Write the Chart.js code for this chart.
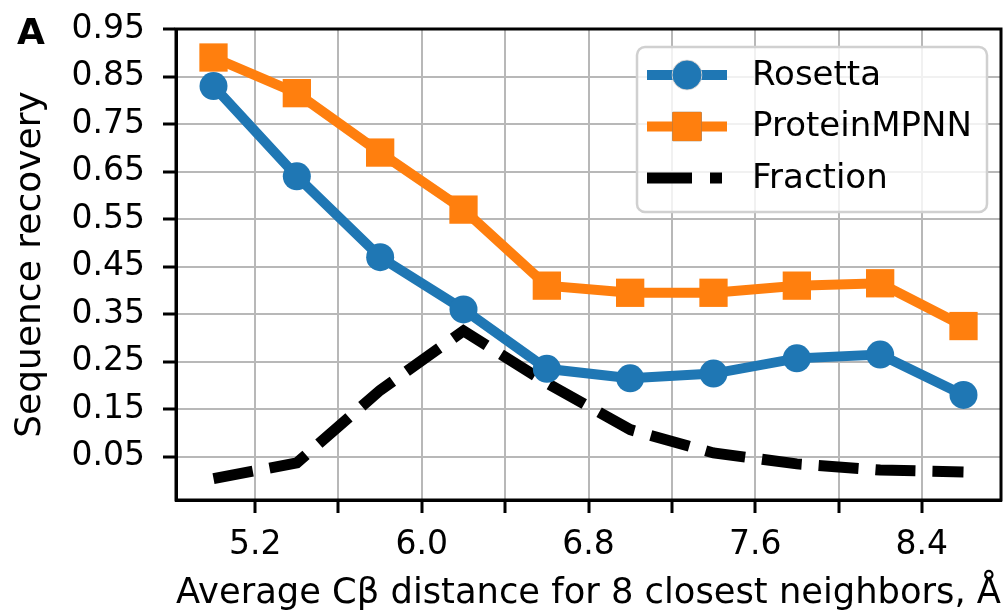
<!DOCTYPE html>
<html>
<head>
<meta charset="utf-8">
<script src="https://cdn.jsdelivr.net/npm/chart.js@4.4.1/dist/chart.umd.min.js"></script>
<style>
  html, body { margin: 0; padding: 0; background: #fff; overflow: hidden; }
  #wrap { width: 1006px; height: 616px; position: relative; }
  #chart { display: block; }
</style>
</head>
<body>
<div id="wrap"><canvas id="chart"></canvas></div>
<script>
// values
const distances = [5.0, 5.4, 5.8, 6.2, 6.6, 7.0, 7.4, 7.8, 8.2, 8.6];
const rosetta = [0.83, 0.64, 0.47, 0.36, 0.235, 0.215, 0.225, 0.257, 0.265, 0.18];
const proteinMPNN = [0.89, 0.815, 0.69, 0.57, 0.41, 0.395, 0.395, 0.41, 0.415, 0.325];
const fraction = [0.004, 0.037, 0.19, 0.315, 0.205, 0.107, 0.058, 0.035, 0.022, 0.018];
const seriesNames = ['Rosetta', 'ProteinMPNN', 'Fraction'];

const xTicks = [5.2, 5.6, 6.0, 6.4, 6.8, 7.2, 7.6, 8.0, 8.4];
const xTickLabels = ['5.2', '6.0', '6.8', '7.6', '8.4'];
const yTicks = [0.05, 0.15, 0.25, 0.35, 0.45, 0.55, 0.65, 0.75, 0.85, 0.95];
const yTickLabels = ['0.05', '0.15', '0.25', '0.35', '0.45', '0.55', '0.65', '0.75', '0.85', '0.95'];

const FONT = "'DejaVu Sans', sans-serif";

function toPoints(ys) {
    return distances.map((x, i) => ({ x: x, y: ys[i] }));
}

// frame on all four sides, panel letter and legend box
const framePlugin = {
    id: 'frame',
    afterDatasetsDraw(chart) {
        const { ctx, chartArea: a } = chart;
        ctx.save();
        ctx.strokeStyle = '#000';
        ctx.lineWidth = 3;
        ctx.strokeRect(a.left, a.top, a.right - a.left, a.bottom - a.top);
        ctx.restore();
    },
    afterDraw(chart) {
        const { ctx, chartArea: a } = chart;
        ctx.save();
        // panel letter
        ctx.fillStyle = '#000';
        ctx.font = "bold 36px " + FONT;
        ctx.textBaseline = 'alphabetic';
        ctx.textAlign = 'left';
        ctx.fillText('A', 17, 44);

        // legend
        const bx = a.right - 364, by = a.top + 18, bw = 350, bh = 165;
        ctx.beginPath();
        ctx.roundRect(bx, by, bw, bh, 8);
        ctx.fillStyle = 'rgba(255,255,255,0.8)';
        ctx.fill();
        ctx.strokeStyle = '#d0d0d0';
        ctx.lineWidth = 2.5;
        ctx.stroke();

        chart.data.datasets.forEach((ds, i) => {
            const rowY = by + 28 + i * 51.5;
            const x0 = bx + 10;
            const x1 = ds.borderDash ? bx + 85 : bx + 90;
            ctx.save();
            ctx.strokeStyle = ds.borderColor;
            ctx.lineWidth = ds.borderWidth;
            ctx.setLineDash(ds.borderDash ? [45, 18] : []);
            ctx.beginPath();
            ctx.moveTo(x0, rowY);
            ctx.lineTo(x1, rowY);
            ctx.stroke();
            ctx.restore();
            if (ds.pointRadius > 0) {
                Chart.helpers.drawPoint(ctx, {
                    pointStyle: ds.pointStyle,
                    radius: ds.pointRadius,
                    borderWidth: 1
                }, bx + 50, rowY);
                ctx.fillStyle = ds.backgroundColor;
                ctx.strokeStyle = ds.borderColor;
                ctx.lineWidth = 1;
                ctx.fill();
                ctx.stroke();
            }
            ctx.fillStyle = '#000';
            ctx.font = "34px " + FONT;
            ctx.textBaseline = 'middle';
            ctx.fillText(ds.label, bx + 115, rowY + 1);
        });
        ctx.restore();
    }
};

const ctx = document.getElementById('chart').getContext('2d');
new Chart(ctx, {
    type: 'line',
    data: {
        datasets: [{
            label: seriesNames[0],
            data: toPoints(rosetta),
            borderColor: '#1f77b4',
            backgroundColor: '#1f77b4',
            borderWidth: 10,
            pointStyle: 'circle',
            pointRadius: 14,
            pointHoverRadius: 14,
            pointBorderWidth: 0,
            order: 2
        }, {
            label: seriesNames[1],
            data: toPoints(proteinMPNN),
            borderColor: '#ff7f0e',
            backgroundColor: '#ff7f0e',
            borderWidth: 10,
            pointStyle: 'rect',
            pointRadius: 20,
            pointHoverRadius: 20,
            pointBorderWidth: 0,
            order: 1
        }, {
            label: seriesNames[2],
            data: toPoints(fraction),
            borderColor: '#000000',
            backgroundColor: '#000000',
            borderWidth: 11,
            borderDash: [40, 17],
            pointRadius: 0,
            pointHoverRadius: 0,
            order: 3
        }]
    },
    options: {
        responsive: true,
        maintainAspectRatio: false,
        animation: false,
        events: [],
        layout: {
            autoPadding: false,
            padding: { top: 29, right: 5, left: 0, bottom: 0 }
        },
        plugins: {
            legend: { display: false },
            tooltip: { enabled: false }
        },
        scales: {
            x: {
                type: 'linear',
                min: 4.82,
                max: 8.78,
                afterBuildTicks: s => { s.ticks = xTicks.map(v => ({ value: v })); },
                afterFit: s => {
                    s.height = 116;
                    s.paddingLeft = 0;
                    s.paddingRight = 0;
                },
                ticks: {
                    color: '#000',
                    font: { family: FONT, size: 33 },
                    padding: 13,
                    maxRotation: 0,
                    autoSkip: false,
                    callback: v => {
                        const t = v.toFixed(1);
                        return xTickLabels.includes(t) ? t : '';
                    }
                },
                grid: {
                    color: '#b8b8b8',
                    lineWidth: 2,
                    tickColor: '#000',
                    tickWidth: 3,
                    tickLength: 13
                },
                border: { color: '#000', width: 3 },
                title: {
                    display: true,
                    text: 'Average C\u03b2 distance for 8 closest neighbors, \u00c5',
                    color: '#000',
                    font: { family: FONT, size: 36 },
                    padding: { top: 0, bottom: 1 }
                }
            },
            y: {
                min: -0.041,
                max: 0.95,
                afterBuildTicks: s => { s.ticks = yTicks.map(v => ({ value: v })); },
                afterFit: s => {
                    s.width = 176;
                    s.paddingTop = 0;
                    s.paddingBottom = 0;
                },
                ticks: {
                    color: '#000',
                    font: { family: FONT, size: 33 },
                    padding: 18,
                    autoSkip: false,
                    callback: (v, i) => yTickLabels[i]
                },
                grid: {
                    color: '#b8b8b8',
                    lineWidth: 2,
                    tickColor: '#000',
                    tickWidth: 3,
                    tickLength: 13
                },
                border: { color: '#000', width: 3 },
                title: {
                    display: true,
                    text: 'Sequence recovery',
                    color: '#000',
                    font: { family: FONT, size: 36 },
                    padding: { top: 9, bottom: 0 }
                }
            }
        }
    },
    plugins: [framePlugin]
});
</script>
</body>
</html>
